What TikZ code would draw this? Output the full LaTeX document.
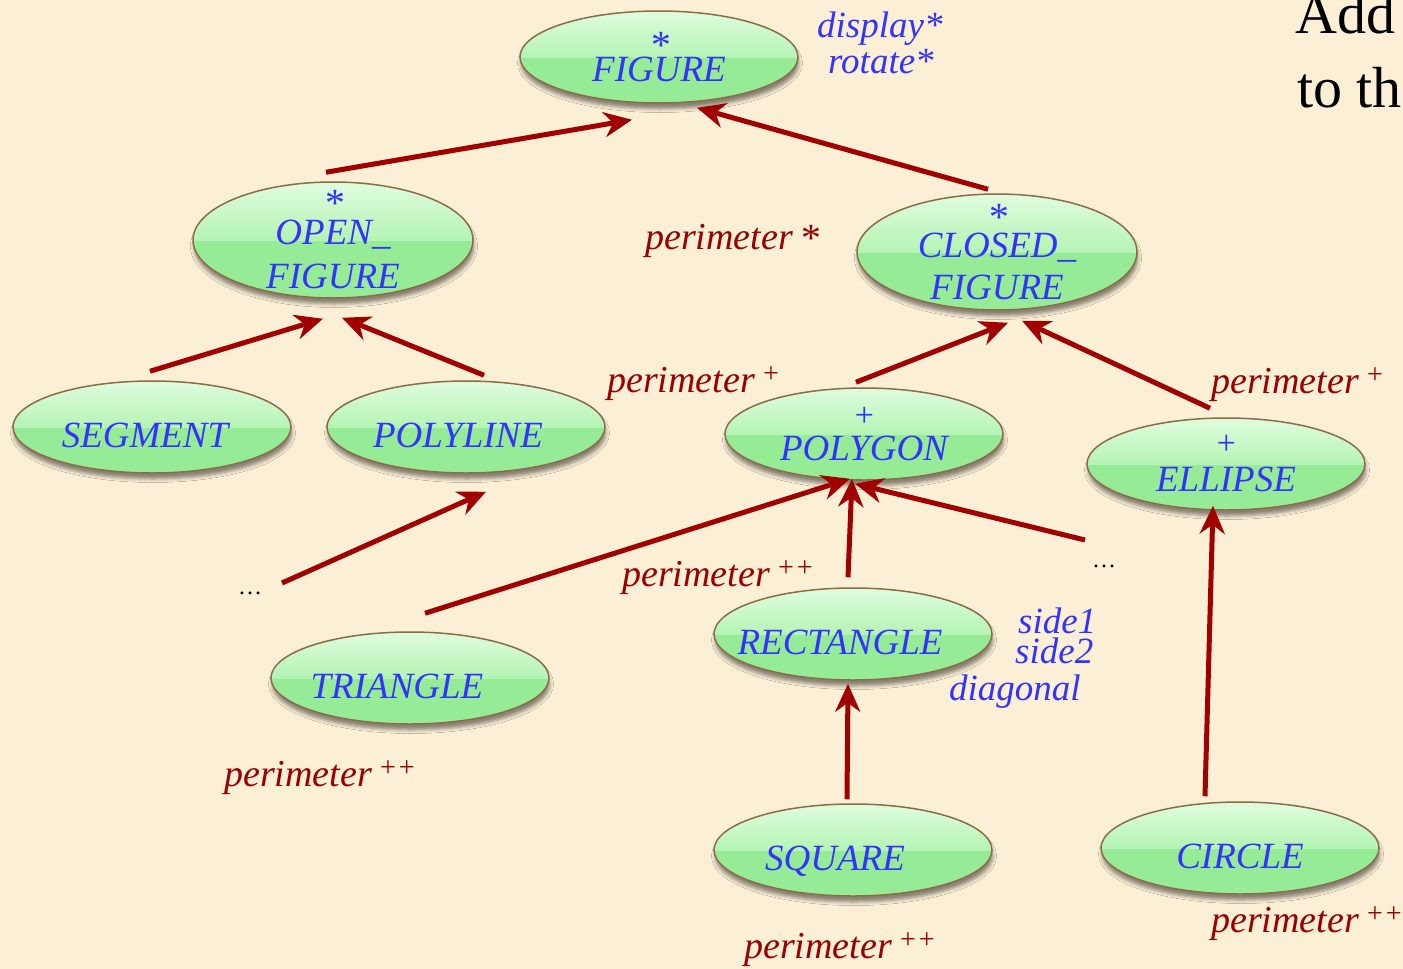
\documentclass[tikz,border=0pt]{standalone}
\usepackage{fontspec}
\setmainfont{Liberation Serif}
\usetikzlibrary{shapes.geometric,arrows.meta,shadows.blur}

\definecolor{parch}{RGB}{251,239,214}
\definecolor{clsblue}{RGB}{51,51,255}
\definecolor{featred}{RGB}{155,0,0}
\definecolor{arrred}{RGB}{160,0,0}
\definecolor{rimbrown}{RGB}{140,108,72}
\definecolor{glosshi}{RGB}{224,252,222}
\definecolor{glosslo}{RGB}{180,244,180}
\definecolor{bodygreen}{RGB}{150,236,150}

% raised marker after a feature name
\newcommand\featmark[3]{\,\raisebox{#1}{\fontsize{#2}{#2}\selectfont #3}}
% deferred / effective marker above a class name
\newcommand\clsmark[2]{{\fontsize{#1}{#1}\selectfont #2}}

\tikzset{
  cls/.style={ellipse, draw=rimbrown, line width=1.5pt, inner sep=-60pt,
    minimum width=278pt, minimum height=92pt, text=clsblue, align=center,
    font=\fontsize{37}{44}\selectfont\itshape,
    blur shadow={shadow xshift=1pt, shadow yshift=-6pt, shadow opacity=45,
      shadow blur radius=3.5pt},
    path picture={
      \fill[bodygreen] (path picture bounding box.south west)
        rectangle (path picture bounding box.north east);
      \shade[top color=glosshi, bottom color=glosslo]
        (path picture bounding box.north west)
        rectangle (path picture bounding box.east);
    }},
  clsone/.style={cls, text height=40pt, text depth=0pt},
  feat/.style={text=featred, font=\fontsize{38}{40}\selectfont\itshape,
    inner sep=0pt, anchor=base west},
  meth/.style={text=clsblue, font=\fontsize{37}{40}\selectfont\itshape,
    inner sep=0pt, anchor=base west},
  dots/.style={font=\fontsize{24}{24}\selectfont, inner sep=0pt, anchor=base},
  slide/.style={font=\fontsize{58}{60}\selectfont, inner sep=0pt, anchor=base west},
  inherit/.style={draw=arrred, line width=5pt,
    -{Stealth[length=28pt, width=25pt, inset=9pt]}},
}

\begin{document}
\begin{tikzpicture}[x=1pt,y=-1pt]
\fill[parch] (0,0) rectangle (1403,969);
\useasboundingbox (0,0) rectangle (1403,969);

% class ellipses
\node[cls] (fig) at (659,57) {\clsmark{40}{*}\\[-21pt]FIGURE};
\node[cls, minimum width=280pt, minimum height=116pt] (open) at (333,240)
  {\clsmark{40}{*}\\[-16pt]OPEN\_\\FIGURE};
\node[cls, minimum width=280pt, minimum height=116pt] (closed) at (997,252)
  {\clsmark{40}{*}\\[-17pt]CLOSED\_\\[-2pt]FIGURE};
\node[clsone] (seg) at (152,427) {SEGMENT\kern14pt};
\node[clsone] (pline) at (466,427) {POLYLINE\kern16pt};
\node[cls] (pgon) at (864,434) {\clsmark{34}{+}\\[-10pt]POLYGON};
\node[cls] (ell) at (1226,464) {\clsmark{34}{+}\\[-7pt]ELLIPSE};
\node[clsone] (tri) at (410,678) {TRIANGLE\kern26pt};
\node[clsone] (rect) at (853,634) {RECTANGLE\kern26pt};
\node[clsone] (sq) at (853,850) {SQUARE\kern36pt};
\node[clsone] (circ) at (1240,848) {CIRCLE};

% elided descendants
\node[dots] (dotsL) at (250,594) {…};
\node[dots] (dotsR) at (1104,567) {…};

% features
\node[meth] (fdisp) at (817,37) {display*};
\node[meth] (frot) at (828,73) {rotate*};
\node[feat] (pstar) at (645,249) {perimeter\featmark{-2pt}{40}{*}};
\node[feat] (ppgon) at (607,392) {perimeter\featmark{10pt}{28}{+}};
\node[feat] (pell) at (1211,393) {perimeter\featmark{10pt}{28}{+}};
\node[feat] (prect) at (622,586) {perimeter\featmark{10pt}{28}{++}};
\node[feat] (ptri) at (224,786) {perimeter\featmark{10pt}{28}{++}};
\node[feat] (psq) at (744,958) {perimeter\featmark{10pt}{28}{++}};
\node[feat] (pcirc) at (1211,932) {perimeter\featmark{10pt}{28}{++}};
\node[meth] (fs1) at (1018,633) {side1};
\node[meth] (fs2) at (1015,663) {side2};
\node[meth] (fdiag) at (949,700) {diagonal};

% slide text at the right edge
\node[slide] (add) at (1295,33) {Add};
\node[slide] (toth) at (1297,107) {to th};

% inheritance links
\draw[inherit] ([xshift=-7pt,yshift=9pt]open.north) -- ([xshift=-27pt,yshift=-16pt]fig.south);
\draw[inherit] ([xshift=-9pt,yshift=4pt]closed.north) -- ([xshift=38pt,yshift=-4pt]fig.south);
\draw[inherit] ([xshift=-2pt,yshift=9pt]seg.north) -- ([xshift=-10pt,yshift=-20pt]open.south);
\draw[inherit] ([xshift=18pt,yshift=5pt]pline.north) -- ([xshift=9pt,yshift=-19pt]open.south);
\draw[inherit] ([xshift=-8pt,yshift=5pt]pgon.north) -- ([xshift=11pt,yshift=-12pt]closed.south);
\draw[inherit] ([xshift=-16pt,yshift=9pt]ell.north) -- ([xshift=25pt,yshift=-10pt]closed.south);
\draw[inherit] ([xshift=32pt,yshift=11pt]dotsL.base) -- ([xshift=20pt,yshift=-18pt]pline.south);
\draw[inherit] ([xshift=15pt,yshift=18pt]tri.north) -- ([xshift=-14pt,yshift=2pt]pgon.south);
\draw[inherit] ([xshift=-5pt,yshift=10pt]rect.north) -- ([xshift=-12pt,yshift=2pt]pgon.south);
\draw[inherit] ([xshift=-19pt,yshift=27pt]dotsR.base) -- ([xshift=-9pt,yshift=-3pt]pgon.south);
\draw[inherit] ([xshift=-6pt,yshift=4pt]sq.north) -- ([xshift=-5pt,yshift=-3pt]rect.south);
\draw[inherit] ([xshift=-35pt,yshift=5pt]circ.north) -- ([xshift=-13pt,yshift=5pt]ell.south);
\end{tikzpicture}
\end{document}
